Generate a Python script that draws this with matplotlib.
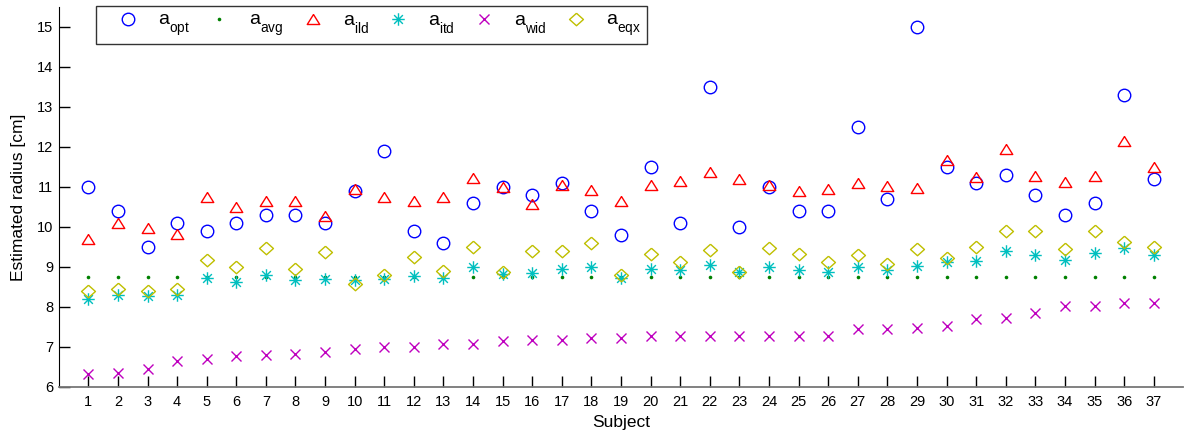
import numpy as np
import matplotlib
matplotlib.use("Agg")
import matplotlib.pyplot as plt
from matplotlib.path import Path
from matplotlib import _mathtext

plt.rcParams['font.family'] = ['Liberation Sans', 'DejaVu Sans']
plt.rcParams['mathtext.fontset'] = 'custom'
plt.rcParams['mathtext.rm'] = 'Liberation Sans'
plt.rcParams['mathtext.it'] = 'Liberation Sans'
plt.rcParams['mathtext.default'] = 'regular'
# drop the legend subscripts a little lower
_mathtext.FontConstantsBase.subdrop = 0.8
_mathtext.FontConstantsBase.sub1 = 0.8

subjects = np.arange(1, 38)

a_opt = [11.0, 10.4, 9.5, 10.1, 9.9, 10.1, 10.3, 10.3, 10.1, 10.9,
         11.9, 9.9, 9.6, 10.6, 11.0, 10.8, 11.1, 10.4, 9.8, 11.5,
         10.1, 13.5, 10.0, 11.0, 10.4, 10.4, 12.5, 10.7, 15.0, 11.5,
         11.1, 11.3, 10.8, 10.3, 10.6, 13.3, 11.2]
a_avg = [8.75] * 37
a_ild = [9.71, 10.1, 9.97, 9.83, 10.76, 10.49, 10.66, 10.65, 10.28, 10.94,
         10.75, 10.66, 10.74, 11.23, 11.0, 10.57, 11.05, 10.93, 10.64, 11.06,
         11.14, 11.37, 11.19, 11.05, 10.9, 10.94, 11.1, 11.02, 10.98, 11.67,
         11.25, 11.94, 11.28, 11.12, 11.27, 12.16, 11.5]
a_itd = [8.19, 8.29, 8.27, 8.29, 8.72, 8.63, 8.8, 8.67, 8.7, 8.68,
         8.69, 8.78, 8.72, 9.0, 8.82, 8.85, 8.95, 8.99, 8.72, 8.96,
         8.92, 9.05, 8.88, 9.0, 8.92, 8.88, 8.99, 8.92, 9.02, 9.13,
         9.15, 9.41, 9.3, 9.18, 9.34, 9.48, 9.31]
a_wid = [6.33, 6.36, 6.44, 6.64, 6.7, 6.78, 6.81, 6.83, 6.87, 6.96,
         7.0, 7.01, 7.07, 7.08, 7.15, 7.17, 7.18, 7.23, 7.23, 7.27,
         7.27, 7.27, 7.27, 7.27, 7.27, 7.28, 7.45, 7.45, 7.48, 7.52,
         7.7, 7.72, 7.84, 8.02, 8.03, 8.09, 8.11]
a_eqx = [8.41, 8.45, 8.39, 8.44, 9.18, 8.99, 9.48, 8.96, 9.37, 8.57,
         8.8, 9.26, 8.9, 9.49, 8.88, 9.41, 9.41, 9.61, 8.79, 9.33,
         9.12, 9.42, 8.87, 9.47, 9.33, 9.13, 9.29, 9.07, 9.46, 9.22,
         9.51, 9.89, 9.9, 9.46, 9.9, 9.62, 9.49]

# marker shapes
tri = [(0, 0.8), (-1, -0.8), (1, -0.8), (0, 0.8)]
dia = [(0, 0.9), (1, 0), (0, -0.9), (-1, 0), (0, 0.9)]
d = 0.7
star = Path([(-1, 0), (1, 0), (0, -1), (0, 1), (-d, -d), (d, d), (-d, d), (d, -d)],
            [Path.MOVETO, Path.LINETO] * 4)

fig = plt.figure(figsize=(11.84, 4.34), dpi=100)
ax = fig.add_axes([0.0496, 0.1083, 0.9498, 0.8756])

kw = dict(linestyle='none', markerfacecolor='none', markeredgewidth=1.0)
ax.plot(subjects, a_opt, marker='o', color='b', markersize=9, label='$a_{opt}$', **kw)
ax.plot(subjects, a_avg, marker='o', linestyle='none', color=(0, 0.5, 0),
        markersize=2.6, markeredgewidth=0, label='$a_{avg}$')
ax.plot(subjects, a_ild, marker=tri, color='r', markersize=9, label='$a_{ild}$', **kw)
ax.plot(subjects, a_itd, marker=star, color=(0, 0.75, 0.75), markersize=9, label='$a_{itd}$', **kw)
ax.plot(subjects, a_wid, marker='x', color=(0.75, 0, 0.75), markersize=7, label='$a_{wid}$', **kw)
ax.plot(subjects, a_eqx, marker=dia, color=(0.75, 0.75, 0), markersize=10, label='$a_{eqx}$', **kw)

ax.set_xlim(0, 38)
ax.set_ylim(6, 15.5)
ax.set_xticks(subjects)
ax.set_yticks(np.arange(6, 16))
ax.tick_params(direction='in', length=8, width=1, labelsize=10.5, color='black')
ax.tick_params(axis='x', pad=6)
ax.tick_params(axis='y', pad=4)
ax.spines['top'].set_visible(False)
ax.spines['right'].set_visible(False)
ax.spines['left'].set_color('black')
ax.spines['bottom'].set_color('#777777')
ax.spines['bottom'].set_linewidth(1.3)

ax.set_xlabel('Subject', fontsize=12.5, labelpad=4)
ax.set_ylabel('Estimated radius [cm]', fontsize=12.5, labelpad=8)

leg = ax.legend(loc='upper left', bbox_to_anchor=(95.7 / 1184, 1 - 6 / 434),
                bbox_transform=fig.transFigure, ncol=6, fontsize=14,
                frameon=True, fancybox=False, edgecolor='black',
                handlelength=2.7, handletextpad=0.2, columnspacing=0.15,
                borderpad=0.3, borderaxespad=0)
leg.get_frame().set_linewidth(1.0)

fig.savefig('out.png', dpi=100)
